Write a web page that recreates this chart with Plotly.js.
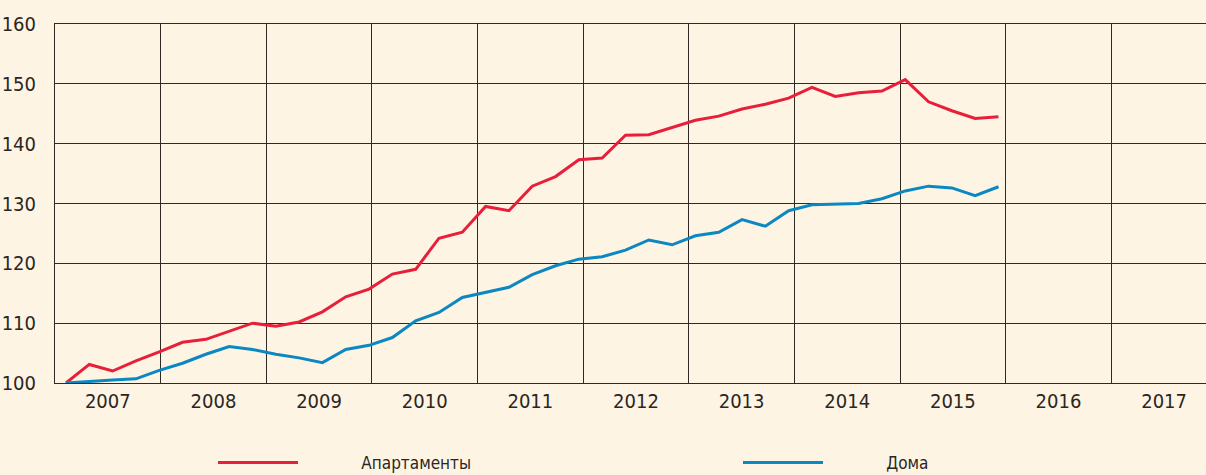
<!DOCTYPE html>
<html>
<head>
<meta charset="utf-8">
<script src="https://cdn.plot.ly/plotly-3.0.1.min.js"></script>
<style>
  html, body { margin: 0; padding: 0; background: #fdf4e4; }
  #chart { width: 1206px; height: 475px; }
</style>
</head>
<body>
<div id="chart"></div>
<script>
// ---- data ----
const seriesNames = ["Апартаменты", "Дома"];
const apartments = [
  100.0, 103.1, 102.0, 103.7, 105.2, 106.8, 107.3, 108.7, 110.0, 109.5,
  110.2, 111.9, 114.4, 115.7, 118.2, 119.0, 124.2, 125.2, 129.5, 128.8,
  132.9, 134.5, 137.3, 137.6, 141.4, 141.5, 142.7, 143.9, 144.6, 145.8,
  146.6, 147.6, 149.4, 147.9, 148.5, 148.8, 150.7, 147.0, 145.5, 144.2,
  144.5
];
const houses = [
  100.0, 100.3, 100.5, 100.7, 102.1, 103.3, 104.8, 106.1, 105.6, 104.8,
  104.2, 103.4, 105.6, 106.3, 107.6, 110.4, 111.8, 114.3, 115.1, 116.0,
  118.1, 119.6, 120.7, 121.1, 122.2, 123.9, 123.1, 124.6, 125.2, 127.3,
  126.2, 128.8, 129.8, 129.9, 130.0, 130.8, 132.1, 132.9, 132.6, 131.3,
  132.8
];
const years = [2007, 2008, 2009, 2010, 2011, 2012, 2013, 2014, 2015, 2016, 2017];
const yTicks = [100, 110, 120, 130, 140, 150, 160];

// sample positions along the time axis (decimal years)
const xStart = 2007.104, xStep = 0.2207;
const xs = apartments.map((_, i) => xStart + i * xStep);

const C_RED = "#e81f3a";
const C_BLUE = "#0b87c1";
const C_GRID = "#2f2a26";
const C_TEXT = "#2b2622";
const FONT = "Liberation Sans Narrow, DejaVu Sans Condensed, sans-serif";
const GAP = "\u00a0".repeat(12); // space between legend line and its label

const traces = [
  { x: xs, y: apartments, name: GAP + seriesNames[0], type: "scatter", mode: "lines",
    line: { color: C_RED, width: 3 }, hoverinfo: "x+y", legend: "legend" },
  { x: xs, y: houses, name: GAP + seriesNames[1], type: "scatter", mode: "lines",
    line: { color: C_BLUE, width: 3 }, hoverinfo: "x+y", legend: "legend2" },
  // invisible helper carrying the year labels axis
  { x: [years[0]], y: [null], xaxis: "x2", type: "scatter", mode: "lines",
    showlegend: false, hoverinfo: "skip" }
];

const xRange = [2007, 2007 + 1151 / 105.63];
const legendBase = {
  orientation: "h", y: -0.2228, xanchor: "left", yanchor: "middle",
  itemwidth: 80, bgcolor: "rgba(0,0,0,0)",
  font: { family: FONT, size: 17, color: C_TEXT }
};

const layout = {
  width: 1206, height: 475,
  margin: { l: 55, r: 0, t: 24, b: 92, autoexpand: false },
  paper_bgcolor: "#fdf4e4",
  plot_bgcolor: "#fdf4e4",
  font: { family: FONT, color: C_TEXT, size: 20 },
  showlegend: true,
  legend: Object.assign({}, legendBase, { x: 0.1373 }),
  legend2: Object.assign({}, legendBase, { x: 0.5934 }),
  xaxis: {
    range: xRange, tickvals: years, showticklabels: false,
    showgrid: true, gridcolor: C_GRID, gridwidth: 1,
    showline: true, linecolor: C_GRID, linewidth: 1, mirror: true,
    zeroline: false, ticks: "", fixedrange: true
  },
  xaxis2: {
    overlaying: "x", anchor: "y", side: "bottom", range: xRange,
    tickvals: years.map(y => y + 0.5), ticktext: years.map(String),
    showgrid: false, showline: false, zeroline: false, ticks: "",
    ticklabelstandoff: 4,
    tickfont: { family: FONT, size: 20, color: C_TEXT }, fixedrange: true
  },
  yaxis: {
    range: [100, 160], tickvals: yTicks,
    showgrid: true, gridcolor: C_GRID, gridwidth: 1,
    showline: true, linecolor: C_GRID, linewidth: 1,
    zeroline: false, ticks: "", ticklabelstandoff: 14,
    tickfont: { family: FONT, size: 20, color: C_TEXT }, fixedrange: true
  }
};

Plotly.newPlot("chart", traces, layout, { displayModeBar: false, staticPlot: true });
</script>
</body>
</html>
